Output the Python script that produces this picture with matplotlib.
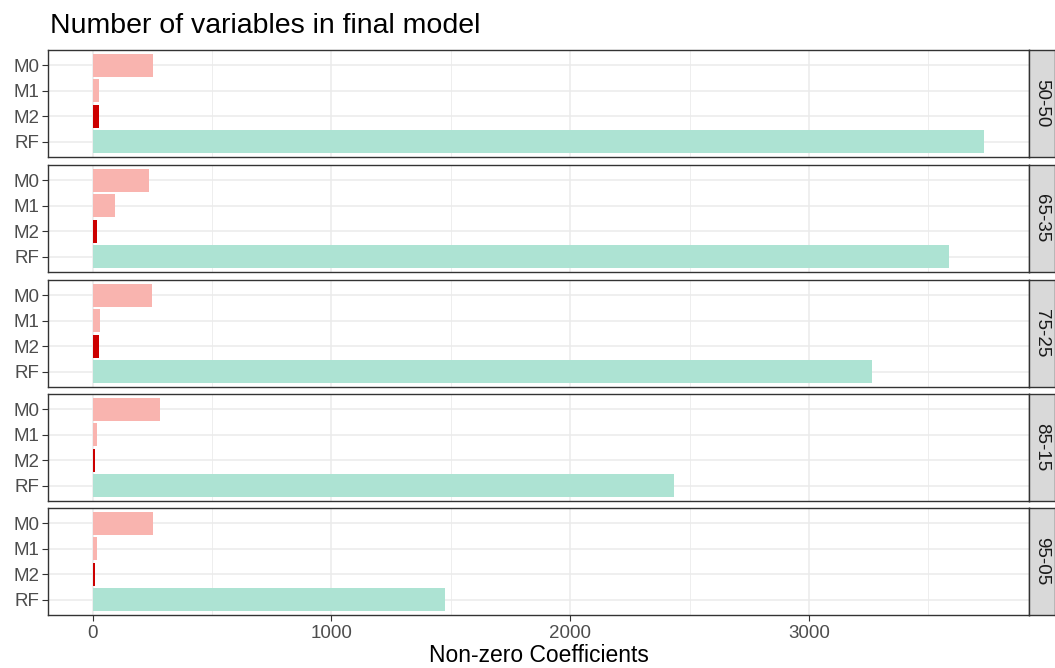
import numpy as np
import matplotlib.pyplot as plt

plt.rcParams['font.family'] = ['Liberation Sans', 'DejaVu Sans']

# data
splits = ["50-50", "65-35", "75-25", "85-15", "95-05"]
models = ["M0", "M1", "M2", "RF"]
m0 = [252, 235, 248, 283, 252]
m1 = [25, 92, 29, 20, 20]
m2 = [25, 17, 25, 12, 8]
rf = [3735, 3588, 3265, 2437, 1475]
x_ticks = [0, 1000, 2000, 3000]

colors = ["#F9B4AF", "#F9B4AF", "#CC0000", "#ADE3D3"]

W, H = 1055, 668
fig = plt.figure(figsize=(W / 100, H / 100), dpi=100)

left, right, strip_w = 48, 1029, 26
tops = [50, 165, 280, 394, 508]
ph = 107

xmax = max(rf)
xlim = (-0.05 * xmax, 1.05 * xmax)

for i, split in enumerate(splits):
    ax = fig.add_axes([left / W, 1 - (tops[i] + ph) / H, (right - left) / W, ph / H])
    vals = [m0[i], m1[i], m2[i], rf[i]]
    ypos = np.arange(len(models))
    ax.barh(ypos, vals, height=0.9, color=colors, linewidth=0, zorder=3)
    ax.set_xlim(*xlim)
    ax.set_ylim(len(models) - 0.4, -0.6)
    ax.set_yticks(ypos)
    ax.set_yticklabels(models)
    ax.set_xticks(x_ticks)
    ax.set_xticks([500, 1500, 2500, 3500], minor=True)
    ax.grid(which="major", color="#EBEBEB", linewidth=1.1, zorder=0)
    ax.grid(which="minor", axis="x", color="#EBEBEB", linewidth=0.6, zorder=0)
    ax.tick_params(axis="y", colors="#333333", labelcolor="#4D4D4D", labelsize=13.5, length=4, pad=2)
    ax.tick_params(axis="x", which="minor", length=0)
    if i < len(splits) - 1:
        ax.tick_params(axis="x", which="major", labelbottom=False, length=0)
    else:
        ax.tick_params(axis="x", which="major", colors="#333333", labelcolor="#4D4D4D",
                       labelsize=13.5, length=4, pad=3)
        ax.set_xlabel("Non-zero Coefficients", fontsize=16.5, color="black", labelpad=2)
    for s in ax.spines.values():
        s.set_color("#333333")
        s.set_linewidth(1.0)

    # facet strip on the right
    sax = fig.add_axes([right / W, 1 - (tops[i] + ph) / H, strip_w / W, ph / H])
    sax.set_facecolor("#D9D9D9")
    sax.set_xticks([])
    sax.set_yticks([])
    for s in sax.spines.values():
        s.set_color("#333333")
        s.set_linewidth(1.0)
    sax.text(0.5, 0.5, split, rotation=-90, ha="center", va="center",
             fontsize=13.5, color="#1A1A1A", transform=sax.transAxes)

fig.text(50 / W, 1 - 26 / H, "Number of variables in final model", fontsize=20.5,
         ha="left", va="center", color="black")

fig.savefig("out.png", dpi=100)
